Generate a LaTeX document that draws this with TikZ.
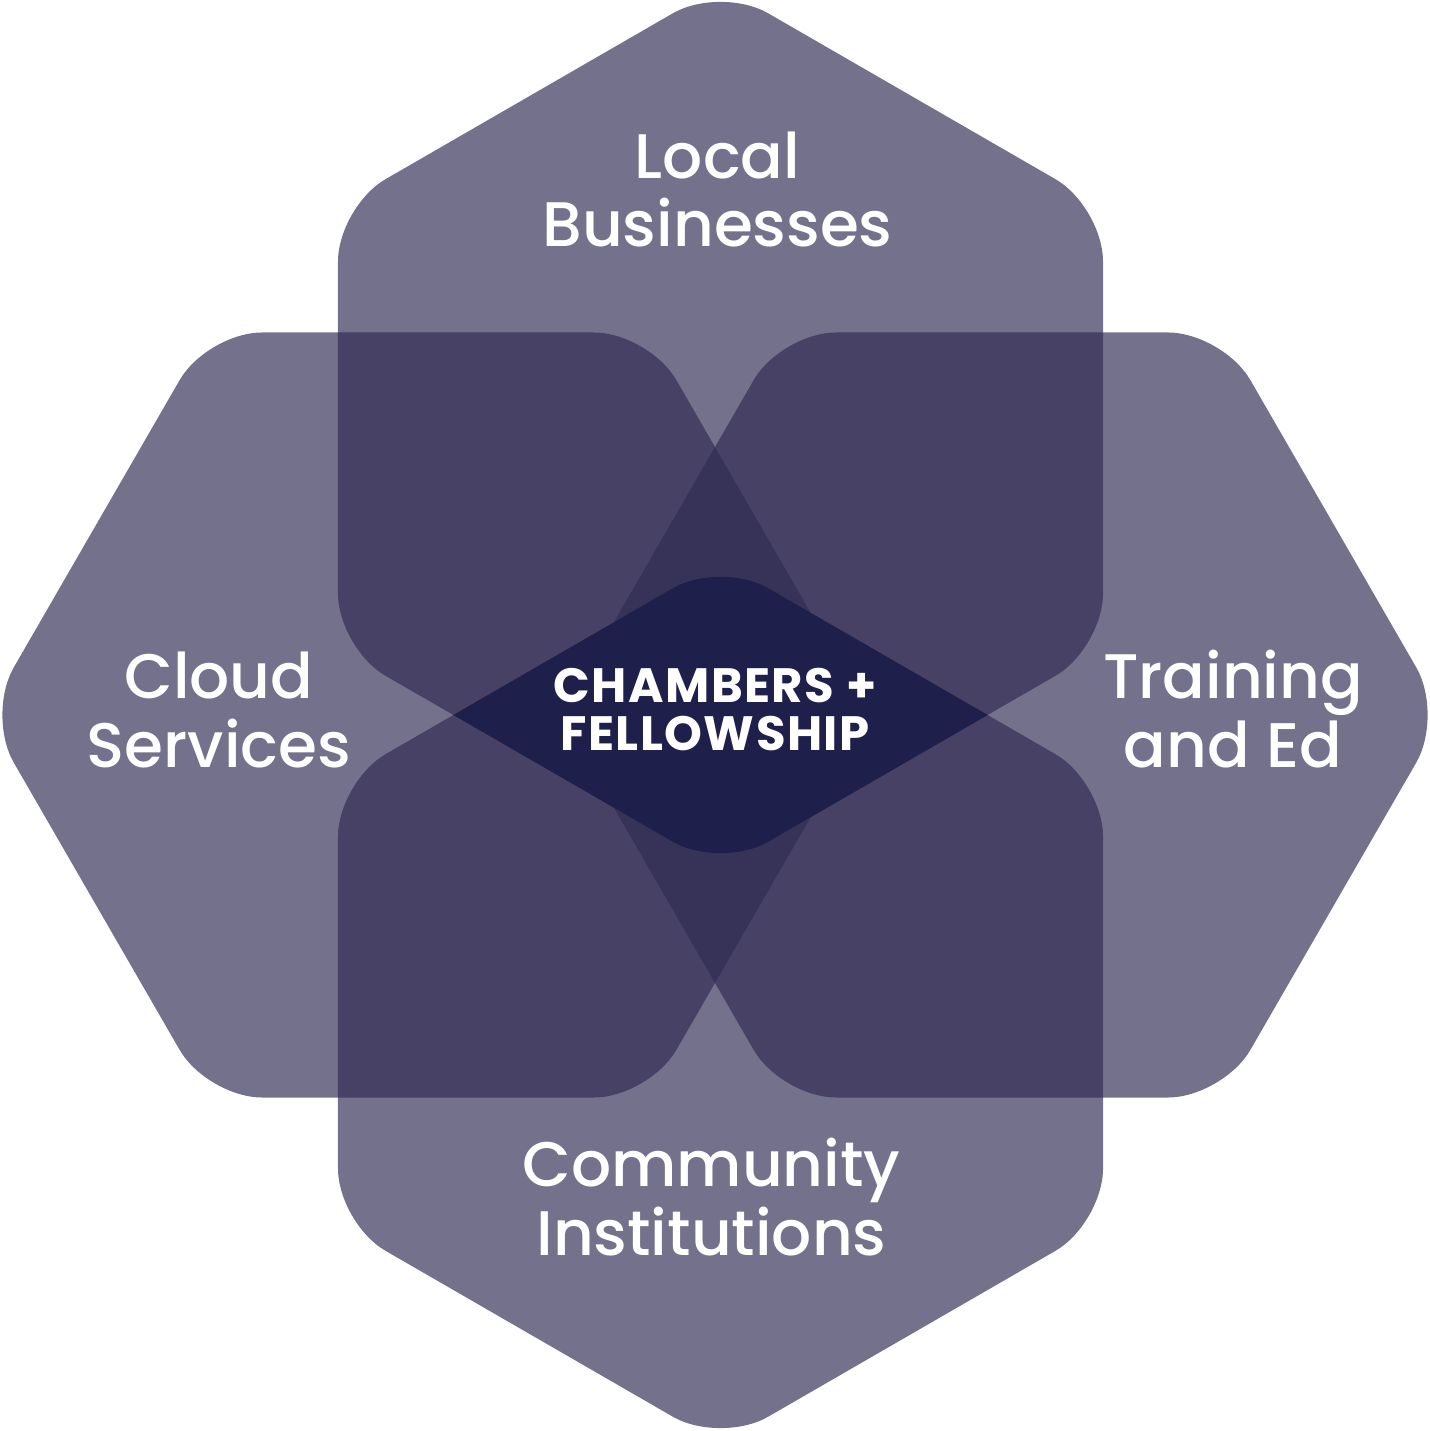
\documentclass[tikz,border=0pt]{standalone}
\usepackage{fontspec}
\usepackage{xcolor}
\newfontfamily\petalfont{Poppins Medium}
\newfontfamily\hubfont{Poppins Bold}[LetterSpace=3]
\definecolor{petalpurple}{RGB}{47,42,82}
\definecolor{hubnavy}{RGB}{30,31,75}
% hexagon of circumradius 441.7 round the current origin, first corner at #1 degrees
\newcommand\hexpath[1]{(#1:441.7) -- (#1+60:441.7) -- (#1+120:441.7) -- (#1+180:441.7) -- (#1+240:441.7) -- (#1+300:441.7) -- cycle}

\begin{document}
\begin{tikzpicture}[x=0.01cm, y=-0.01cm,
    petal/.style={fill=petalpurple, fill opacity=0.667, rounded corners=0.55cm},
    petaltext/.style={text=white, align=center, inner sep=0pt, anchor=base,
        font=\petalfont\fontsize{17.9pt}{19.6pt}\selectfont},
    hubtext/.style={text=white, align=center, inner sep=0pt, anchor=base,
        font=\hubfont\fontsize{13.7pt}{13.6pt}\selectfont}]
    \useasboundingbox (0,0) rectangle (1429,1431);
    % four petals
    \foreach \cx/\cy/\a in {720.5/427.5/90, 428/715/0, 1002/715/0, 720.5/1002.5/90}
        \fill[petal, shift={(\cx,\cy)}] \hexpath{\a};
    % hub: where the top and bottom petals meet
    \begin{scope}
        \clip[rounded corners=0.55cm, shift={(720.5,427.5)}] \hexpath{90};
        \fill[hubnavy, rounded corners=0.55cm, shift={(720.5,1002.5)}] \hexpath{90};
    \end{scope}
    \node[petaltext] (local) at (717.5,247) {Local\\Businesses};
    \node[petaltext] (cloud) at (219,767) {Cloud\\Services};
    \node[petaltext] (training) at (1233,767) {Training\\and Ed};
    \node[petaltext] (community) at (711.5,1255) {Community\\Institutions};
    \node[hubtext] (hub) at (715,750) {CHAMBERS +\\FELLOWSHIP};
\end{tikzpicture}
\end{document}
